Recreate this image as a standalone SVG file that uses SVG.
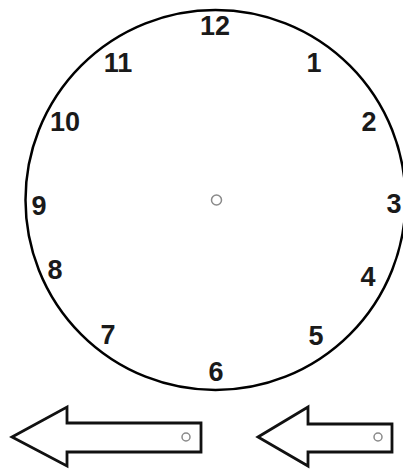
<svg xmlns="http://www.w3.org/2000/svg" width="403" height="470" viewBox="0 0 403 470">
<style>
.face{fill:#fff;stroke:#000;stroke-width:2.5}
.num{font-family:"Liberation Sans",Arial,sans-serif;font-weight:bold;font-size:27px;fill:#1a1a1a;text-anchor:middle}
.hole{fill:#fff;stroke:#8a8a8a;stroke-width:1.5}
.arrow{fill:#fff;stroke:#111;stroke-width:2.8;stroke-linejoin:miter}
</style>
<rect width="403" height="470" fill="#fff"/>
<g id="clock">
<circle class="face" cx="215.5" cy="200" r="190"/>
<circle class="hole" cx="216.5" cy="200" r="5"/>
</g>
<g id="numbers">
<text class="num" x="215" y="35">12</text>
<text class="num" x="118" y="72">11</text>
<text class="num" x="314" y="72">1</text>
<text class="num" x="65" y="131">10</text>
<text class="num" x="369" y="131">2</text>
<text class="num" x="39" y="215">9</text>
<text class="num" x="394" y="213">3</text>
<text class="num" x="55" y="279">8</text>
<text class="num" x="368" y="286">4</text>
<text class="num" x="108" y="344">7</text>
<text class="num" x="316" y="345">5</text>
<text class="num" x="216" y="381">6</text>
</g>
<g id="arrow-long">
<polygon class="arrow" points="12,437 67,407 67,423 201,423 201,452 67,452 67,466"/>
<circle class="hole" cx="186" cy="437" r="4"/>
</g>
<g id="arrow-short">
<polygon class="arrow" points="258,437 308,407 308,424 392,424 392,452 308,452 308,466"/>
<circle class="hole" cx="378" cy="437" r="4"/>
</g>
</svg>
